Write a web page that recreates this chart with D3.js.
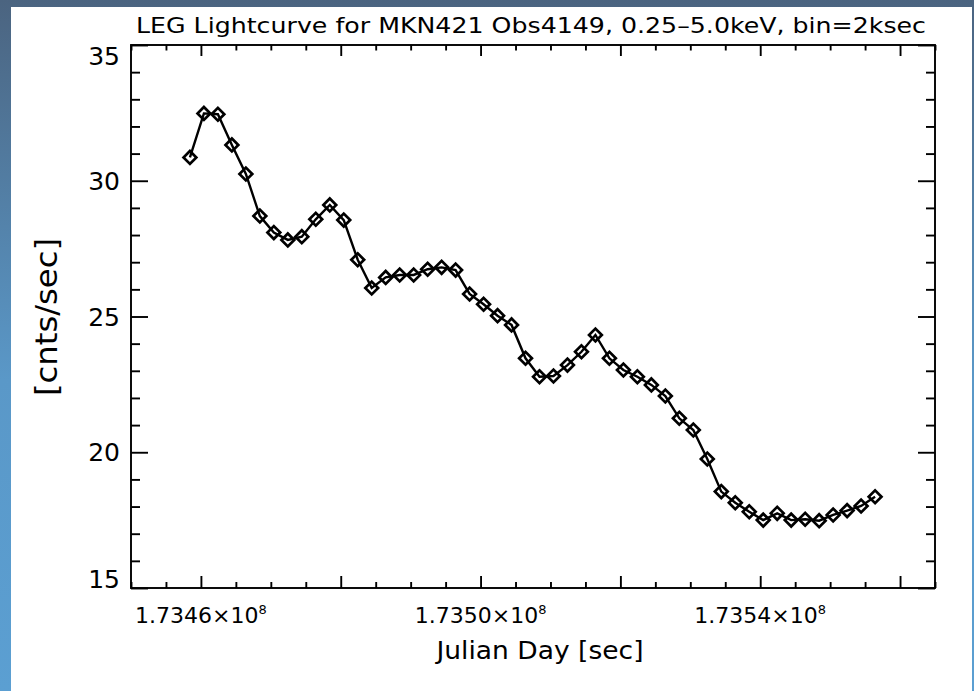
<!DOCTYPE html>
<html>
<head>
<meta charset="utf-8">
<script src="https://cdn.jsdelivr.net/npm/d3@7"></script>
<style>
  html, body { margin: 0; padding: 0; background: #fff; }
  svg { display: block; }
  text { font-family: "DejaVu Sans", sans-serif; fill: #000; }
</style>
</head>
<body>
<svg id="chart" width="974" height="691"></svg>
<script>
// LEG light curve, MKN421 ObsID 4149, 2 ksec bins
const binTimes = [
  173458430, 173460430, 173462430, 173464430, 173466430, 173468430, 173470430, 173472430,
  173474430, 173476430, 173478430, 173480430, 173482430, 173484430, 173486430, 173488430,
  173490430, 173492430, 173494430, 173496430, 173498430, 173500430, 173502430, 173504430,
  173506430, 173508430, 173510430, 173512430, 173514430, 173516430, 173518430, 173520430,
  173522430, 173524430, 173526430, 173528430, 173530430, 173532430, 173534430, 173536430,
  173538430, 173540430, 173542430, 173544430, 173546430, 173548430, 173550430, 173552430,
  173554430, 173556430
];
const countRates = [
  30.86, 32.48, 32.45, 31.32, 30.25, 28.70, 28.09, 27.82, 27.94, 28.58,
  29.11, 28.55, 27.09, 26.05, 26.44, 26.53, 26.53, 26.74, 26.81, 26.71,
  25.83, 25.45, 25.03, 24.69, 23.46, 22.78, 22.81, 23.21, 23.70, 24.32,
  23.46, 23.03, 22.78, 22.48, 22.07, 21.25, 20.82, 19.75, 18.55, 18.14,
  17.81, 17.50, 17.75, 17.50, 17.53, 17.48, 17.69, 17.85, 18.02, 18.36
];
const xDomain = [173450000, 173565000];
const yDomain = [15, 35];
const xMajorTicks = [173460000, 173480000, 173500000, 173520000, 173540000, 173560000];
const xLabelTicks = [173460000, 173500000, 173540000];
const xLabelMantissa = ["1.7346", "1.7350", "1.7354"];
const yMajorTicks = [15, 20, 25, 30, 35];
const titleText = "LEG Lightcurve for MKN421 Obs4149, 0.25\u20135.0keV, bin=2ksec";
const xTitle = "Julian Day [sec]";
const yTitle = "[cnts/sec]";

const svg = d3.select("#chart");
const W = 974, H = 691;
const plot = { left: 131, right: 935, top: 45, bottom: 588 };

// window frame: bluish gradient with white panel
const defs = svg.append("defs");
const grad = defs.append("linearGradient").attr("id", "frameGrad")
  .attr("x1", 0).attr("y1", 0).attr("x2", 0).attr("y2", 1);
grad.append("stop").attr("offset", "0%").attr("stop-color", "#4b6480");
grad.append("stop").attr("offset", "55%").attr("stop-color", "#5a98c8");
grad.append("stop").attr("offset", "100%").attr("stop-color", "#5b9fd2");
svg.append("rect").attr("width", W).attr("height", H).attr("fill", "url(#frameGrad)");
svg.append("rect").attr("x", 11).attr("y", 7).attr("width", 961).attr("height", H - 7).attr("fill", "#fff");

const x = d3.scaleLinear().domain(xDomain).range([plot.left, plot.right]);
const y = d3.scaleLinear().domain(yDomain).range([plot.bottom, plot.top]);

const xMinorTicks = d3.range(xDomain[0], xDomain[1] + 1, 5000).filter(t => !xMajorTicks.includes(t));
const yMinorTicks = d3.range(yDomain[0], yDomain[1] + 0.01, 1).filter(v => !yMajorTicks.includes(v));

const axisStroke = 1.9;
function tickAxis(axisFn, scale, values, size, tr) {
  const g = svg.append("g").attr("transform", tr)
    .call(axisFn(scale).tickValues(values).tickSize(size).tickFormat(""));
  g.select(".domain").remove();
  g.selectAll(".tick line").attr("stroke", "#000").attr("stroke-width", axisStroke);
  return g;
}
// bottom / top ticks (pointing inward)
tickAxis(d3.axisTop, x, xMajorTicks, 12, `translate(0,${plot.bottom})`);
tickAxis(d3.axisTop, x, xMinorTicks, 6, `translate(0,${plot.bottom})`);
tickAxis(d3.axisBottom, x, xMajorTicks, 11, `translate(0,${plot.top})`);
tickAxis(d3.axisBottom, x, xMinorTicks, 5.5, `translate(0,${plot.top})`);
// left / right ticks (pointing inward)
tickAxis(d3.axisRight, y, yMajorTicks, 17, `translate(${plot.left},0)`);
tickAxis(d3.axisRight, y, yMinorTicks, 9, `translate(${plot.left},0)`);
tickAxis(d3.axisLeft, y, yMajorTicks, 17, `translate(${plot.right},0)`);
tickAxis(d3.axisLeft, y, yMinorTicks, 9, `translate(${plot.right},0)`);

// frame box
svg.append("rect")
  .attr("x", plot.left).attr("y", plot.top)
  .attr("width", plot.right - plot.left).attr("height", plot.bottom - plot.top)
  .attr("fill", "none").attr("stroke", "#000").attr("stroke-width", axisStroke);

// y tick labels; the end labels sit inside the frame range
svg.append("g").selectAll("text").data(yMajorTicks).join("text")
  .attr("x", plot.left - 11)
  .attr("y", d => y(d) + (d === yDomain[1] ? 11 : d === yDomain[0] ? -9 : 0))
  .attr("dy", "0.36em")
  .attr("text-anchor", "end")
  .attr("font-size", 25)
  .text(d => d);

// x tick labels with power-of-ten superscript
const xl = svg.append("g").selectAll("text").data(xLabelTicks).join("text")
  .attr("x", d => x(d))
  .attr("y", 623)
  .attr("text-anchor", "middle")
  .attr("font-size", 22);
xl.append("tspan").text((d, i) => xLabelMantissa[i] + "\u00d710");
xl.append("tspan").attr("dy", -9).attr("font-size", 13).text("8");

// titles
svg.append("text").attr("x", 531).attr("y", 33)
  .attr("text-anchor", "middle").attr("font-size", 21)
  .attr("textLength", 790).attr("lengthAdjust", "spacingAndGlyphs")
  .text(titleText);
svg.append("text").attr("x", 540).attr("y", 659)
  .attr("text-anchor", "middle").attr("font-size", 25)
  .attr("textLength", 207).attr("lengthAdjust", "spacingAndGlyphs")
  .text(xTitle);
svg.append("text")
  .attr("transform", `translate(57,317) rotate(-90)`)
  .attr("text-anchor", "middle").attr("font-size", 30)
  .attr("textLength", 158).attr("lengthAdjust", "spacingAndGlyphs")
  .text(yTitle);

// light curve
const pts = binTimes.map((t, i) => ({ t, v: countRates[i] }));
svg.append("path").datum(pts)
  .attr("fill", "none").attr("stroke", "#000").attr("stroke-width", 2.4)
  .attr("d", d3.line().x(d => x(d.t)).y(d => y(d.v)));

const diamond = d3.symbol().type(d3.symbolSquare).size(82);
svg.append("g").selectAll("path").data(pts).join("path")
  .attr("transform", d => `translate(${x(d.t)},${y(d.v)}) rotate(45)`)
  .attr("d", diamond)
  .attr("fill", "none").attr("stroke", "#000").attr("stroke-width", 2.7);
</script>
</body>
</html>
